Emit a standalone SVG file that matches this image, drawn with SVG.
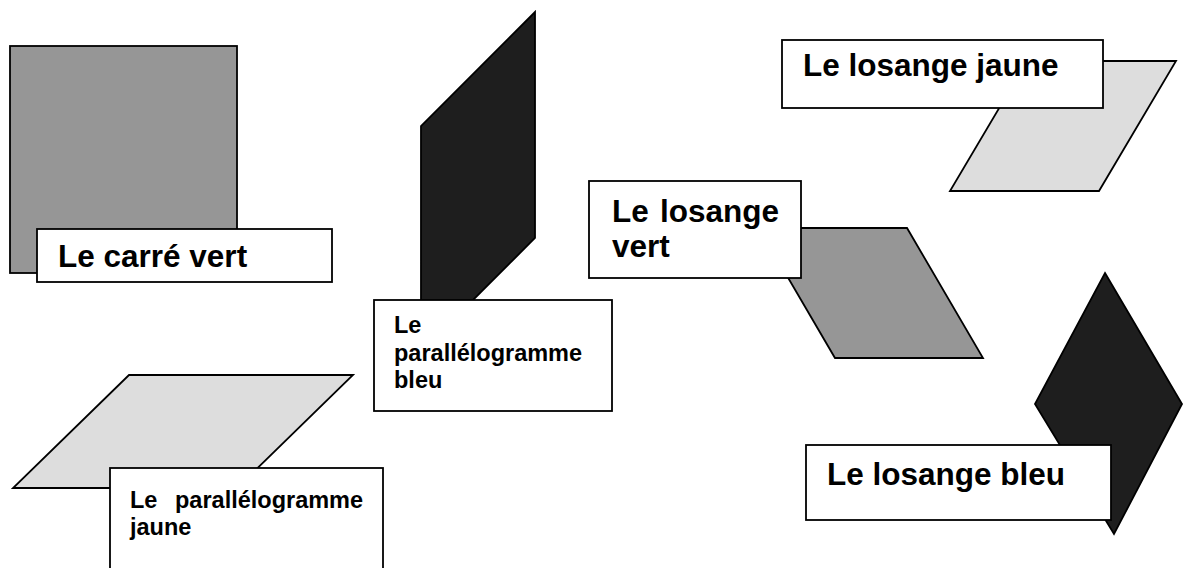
<svg xmlns="http://www.w3.org/2000/svg" width="1184" height="568" viewBox="0 0 1184 568">
  <style>
    .shape { stroke: #000; stroke-width: 1.8; stroke-linejoin: miter; }
    .mid { fill: #969696; }
    .dark { fill: #1e1e1e; }
    .light { fill: #dddddd; }
    .box { fill: #fff; stroke: #000; stroke-width: 1.8; }
    .lbl { font-family: "Liberation Sans", Arial, sans-serif; font-weight: bold; fill: #000; }
    .big { font-size: 31.5px; }
    .small { font-size: 23.5px; }
  </style>
  <rect width="1184" height="568" fill="#fff"/>

  <g id="carre-vert">
    <rect class="shape mid" x="10" y="46" width="227" height="227"/>
    <rect class="box" x="37" y="229" width="295" height="53"/>
    <text class="lbl big" x="58" y="267">Le carré vert</text>
  </g>

  <g id="parallelogramme-bleu">
    <polygon class="shape dark" points="535,12 535,238 421,352 421,126"/>
    <rect class="box" x="374" y="300" width="238" height="111"/>
    <text class="lbl small" x="394" y="333">Le</text>
    <text class="lbl small" x="394" y="361">parallélogramme</text>
    <text class="lbl small" x="394" y="388">bleu</text>
  </g>

  <g id="parallelogramme-jaune">
    <polygon class="shape light" points="129,375 353,375 237,488 13,488"/>
    <rect class="box" x="110" y="468" width="273" height="110"/>
    <text class="lbl small" x="130" y="508">Le</text>
    <text class="lbl small" x="175" y="508">parallélogramme</text>
    <text class="lbl small" x="130" y="535">jaune</text>
  </g>

  <g id="losange-jaune">
    <polygon class="shape light" points="1027,61 1176,61 1099,191 950,191"/>
    <rect class="box" x="782" y="40" width="321" height="68"/>
    <text class="lbl big" x="803" y="76">Le losange jaune</text>
  </g>

  <g id="losange-vert">
    <polygon class="shape mid" points="759,228 907,228 983,358 835,358"/>
    <rect class="box" x="589" y="181" width="212" height="97"/>
    <text class="lbl big" x="612" y="222">Le</text>
    <text class="lbl big" x="660" y="222">losange</text>
    <text class="lbl big" x="612" y="257">vert</text>
  </g>

  <g id="losange-bleu">
    <polygon class="shape dark" points="1105,273 1182,404 1114,534 1035,404"/>
    <rect class="box" x="806" y="445" width="305" height="75"/>
    <text class="lbl big" x="827" y="485">Le losange bleu</text>
  </g>

  <g id="connectors"/>
</svg>
